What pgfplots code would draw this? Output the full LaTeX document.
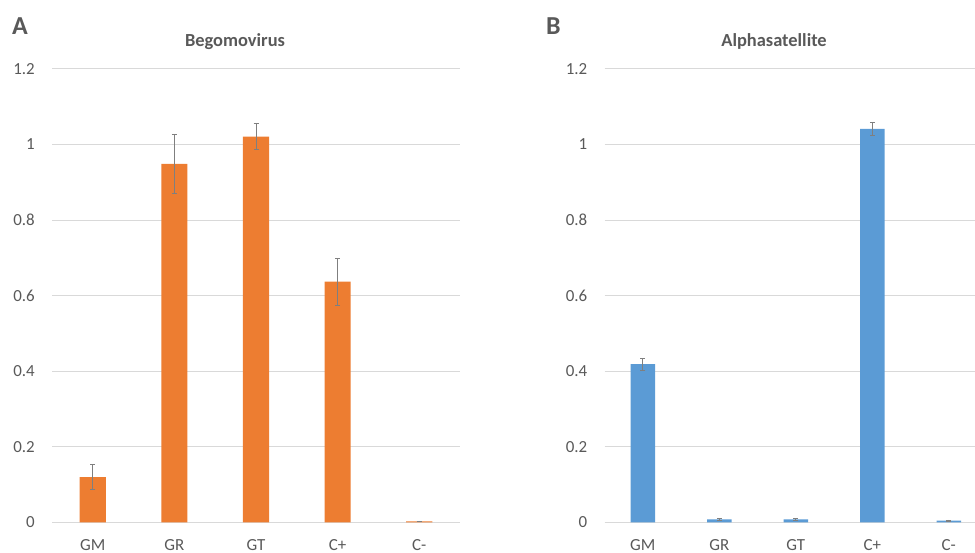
\documentclass[border=0pt]{standalone}
\usepackage{pgfplots}
\pgfplotsset{compat=1.18}
\usepackage{fontspec}
\setmainfont{Carlito}
\definecolor{xlorange}{HTML}{ED7D31}
\definecolor{xlblue}{HTML}{5B9BD5}
\definecolor{xlgrid}{HTML}{D9D9D9}
\definecolor{xltext}{HTML}{595959}
\definecolor{xlerr}{HTML}{7F7F7F}
\pgfplotsset{
  xlstyle/.style={
    scale only axis,
    ymin=0, ymax=1.2,
    ytick={0,0.2,...,1.2},
    yticklabels={0,0.2,0.4,0.6,0.8,1,1.2},
    xtick={0,1,2,3,4},
    xticklabels={GM,GR,GT,C+,C-},
    xmin=-0.5,
    axis line style={draw=none},
    axis x line*=bottom,
    x axis line style={draw=xlgrid, line width=0.8pt},
    ymajorgrids,
    major grid style={draw=xlgrid, line width=0.8pt},
    major tick length=0pt,
    tick style={draw=none},
    yticklabel style={font=\fontsize{17}{19}\selectfont, text=xltext, anchor=east, inner sep=0pt, xshift=-17bp},
    xticklabel style={font=\fontsize{17}{19}\selectfont, text=xltext, anchor=base, inner sep=0pt, yshift=-28.5bp},
    /pgf/number format/assume math mode=true,
    ybar, bar width=0.32,
    clip=false,
    error bars/y dir=both, error bars/y explicit,
    error bars/error bar style={draw=xlerr, line width=0.7pt},
    error bars/error mark options={draw=xlerr, line width=0.7pt, mark size=2.5bp, rotate=90},
  }
}
\begin{document}
\begin{tikzpicture}[x=1bp,y=1bp]
\useasboundingbox (0,0) rectangle (975,553);
\begin{axis}[xlstyle, at={(52bp,30.5bp)}, anchor=south west, width=408bp, height=453.6bp, xmax=4.5]
\addplot[fill=xlorange, draw=none] coordinates {
  (0,0.120) +- (0,0.033)
  (1,0.949) +- (0,0.079)
  (2,1.021) +- (0,0.034)
  (3,0.637) +- (0,0.062)
  (4,0.003) +- (0,0.001)
};
\end{axis}
\begin{axis}[xlstyle, at={(604.5bp,30.5bp)}, anchor=south west, width=370.5bp, height=453.6bp, xmax=4.343]
\addplot[fill=xlblue, draw=none] coordinates {
  (0,0.419) +- (0,0.016)
  (1,0.008) +- (0,0.002)
  (2,0.008) +- (0,0.002)
  (3,1.041) +- (0,0.018)
  (4,0.005) +- (0,0.002)
};
\end{axis}
\node[anchor=base, inner sep=0pt, text=xltext, font=\fontsize{18.5}{20}\selectfont\bfseries] at (235,506) {Begomovirus};
\node[anchor=base, inner sep=0pt, text=xltext, font=\fontsize{18.5}{20}\selectfont\bfseries] at (774,506) {Alphasatellite};
\node[anchor=base west, inner sep=0pt, text=xltext, font=\fontsize{26}{28}\selectfont\bfseries] at (12,518) {A};
\node[anchor=base west, inner sep=0pt, text=xltext, font=\fontsize{26}{28}\selectfont\bfseries] at (546,518) {B};
\end{tikzpicture}
\end{document}
